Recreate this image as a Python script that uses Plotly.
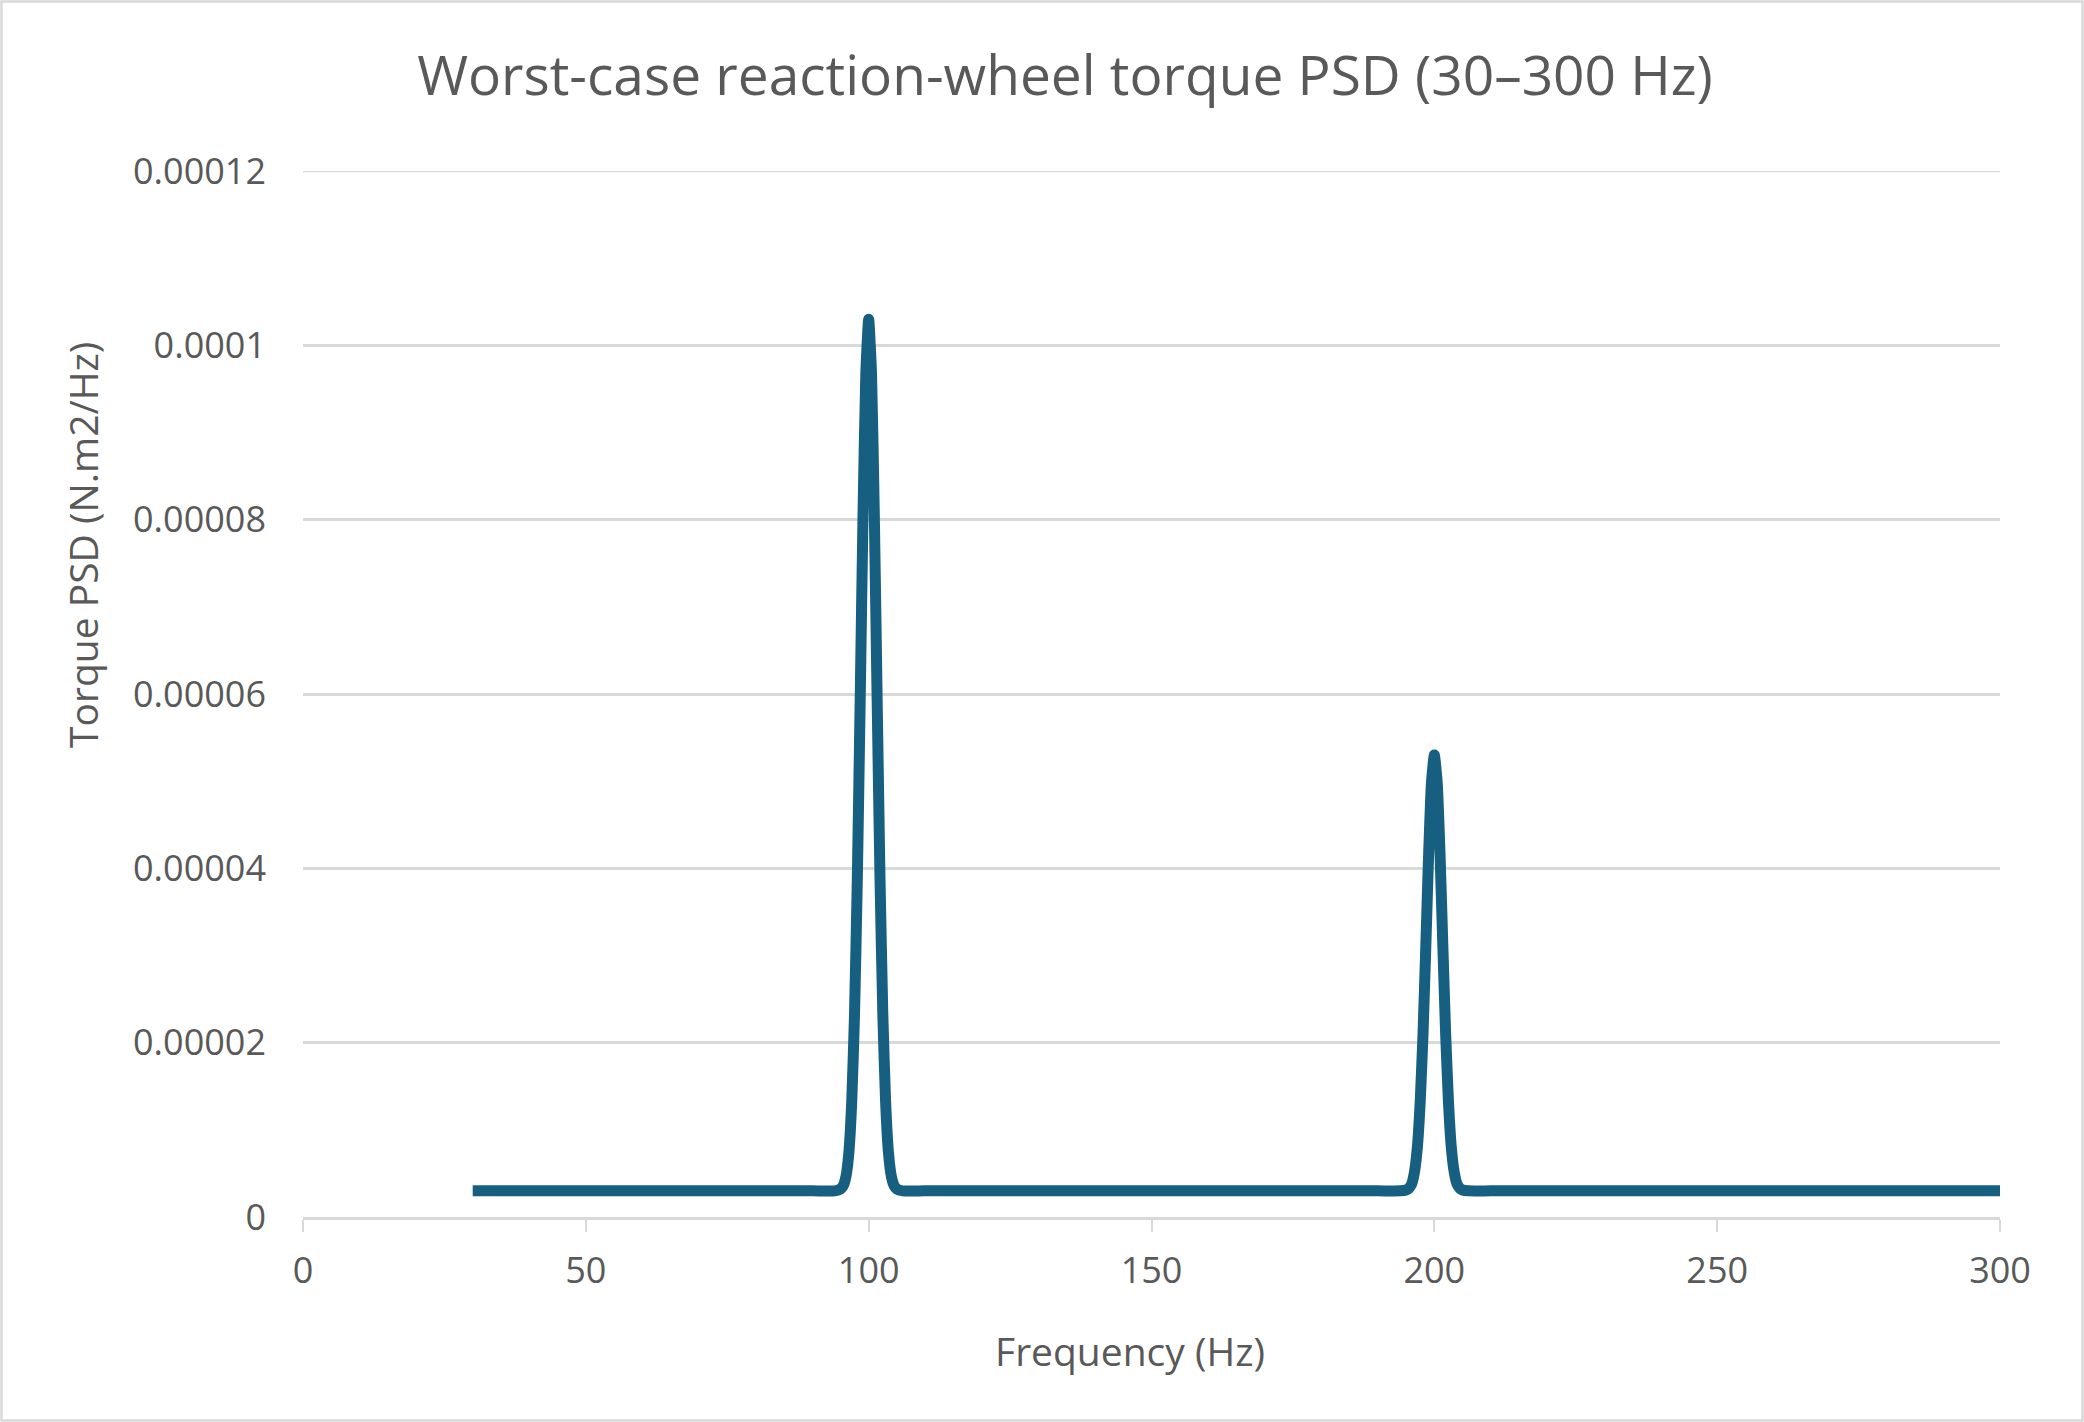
import plotly.graph_objects as go

# Frequencies (Hz) and torque PSD (N.m2/Hz)
freq_hz = [30, 60, 90, 94, 95, 95.5, 96, 96.5, 97, 97.5, 98, 98.5, 99, 99.5, 100,
           100.5, 101, 101.5, 102, 102.5, 103, 103.5, 104, 104.5, 105, 106, 110,
           150, 190, 194, 195, 195.5, 196, 196.5, 197, 197.5, 198, 198.5, 199, 199.5, 200,
           200.5, 201, 201.5, 202, 202.5, 203, 203.5, 204, 204.5, 205, 206, 210, 250, 300]
psd = [3.0e-6, 3.0e-6, 3.0e-6, 3.0e-6, 3.2e-6, 3.6e-6, 4.7e-6, 7.4e-6, 13.1e-6, 23.3e-6, 39.0e-6, 59.3e-6, 80.5e-6, 96.8e-6, 103.0e-6,
       96.8e-6, 80.5e-6, 59.3e-6, 39.0e-6, 23.3e-6, 13.1e-6, 7.4e-6, 4.7e-6, 3.6e-6, 3.2e-6, 3.0e-6, 3.0e-6,
       3.0e-6, 3.0e-6, 3.0e-6, 3.1e-6, 3.3e-6, 3.8e-6, 5.2e-6, 8.0e-6, 13.2e-6, 21.0e-6, 31.2e-6, 41.8e-6, 49.9e-6, 53.0e-6,
       49.9e-6, 41.8e-6, 31.2e-6, 21.0e-6, 13.2e-6, 8.0e-6, 5.2e-6, 3.8e-6, 3.3e-6, 3.1e-6, 3.0e-6, 3.0e-6, 3.0e-6, 3.0e-6]

x_ticks = [0, 50, 100, 150, 200, 250, 300]
y_ticks = [0, 0.00002, 0.00004, 0.00006, 0.00008, 0.0001, 0.00012]
y_tick_text = ["0", "0.00002", "0.00004", "0.00006", "0.00008", "0.0001", "0.00012"]

TEXT = "#595959"
GRID = "#D9D9D9"
LINE = "#175F81"
FONT = "Open Sans"

W, H = 2084, 1422
L, R, T, B = 303, 84, 171, 205
PW, PH = W - L - R, H - T - B

fig = go.Figure()
fig.add_trace(go.Scatter(
    x=freq_hz, y=psd, mode="lines",
    line=dict(color=LINE, width=11, shape="spline", smoothing=0.5),
    hoverinfo="x+y", showlegend=False,
))

fig.update_layout(
    width=W, height=H,
    margin=dict(l=L, r=R, t=T, b=B, autoexpand=False),
    paper_bgcolor="white", plot_bgcolor="white",
    font=dict(family=FONT, color=TEXT),
    title=dict(text="Worst-case reaction-wheel torque PSD (30–300 Hz)",
               x=(1065 - L) / PW, xref="paper", xanchor="center",
               y=1 - 76 / H, yref="container", yanchor="middle",
               font=dict(family=FONT, size=55, color=TEXT)),
    xaxis=dict(
        range=[0, 300], tickvals=x_ticks, ticktext=[str(v) for v in x_ticks],
        showgrid=False, zeroline=False,
        showline=True, linecolor=GRID, linewidth=2.5,
        ticks="outside", ticklen=12, tickcolor=GRID, tickwidth=2,
        tickfont=dict(family=FONT, size=36, color=TEXT),
        ticklabelstandoff=8,
        automargin=False, fixedrange=True,
    ),
    yaxis=dict(
        range=[0, 0.00012], tickvals=y_ticks, ticktext=y_tick_text,
        showgrid=True, gridcolor=GRID, gridwidth=2.5,
        zeroline=False, showline=False, ticks="",
        tickfont=dict(family=FONT, size=36, color=TEXT),
        ticklabelstandoff=36,
        automargin=False, fixedrange=True,
    ),
    annotations=[
        dict(text="Frequency (Hz)", xref="paper", yref="paper",
             x=(1130 - L) / PW, y=(T + PH - 1350) / PH,
             xanchor="center", yanchor="middle", showarrow=False,
             font=dict(family=FONT, size=39, color=TEXT)),
        dict(text="Torque PSD (N.m2/Hz)", xref="paper", yref="paper",
             x=(82 - L) / PW, y=(T + PH - 545) / PH, textangle=-90,
             xanchor="center", yanchor="middle", showarrow=False,
             font=dict(family=FONT, size=39, color=TEXT)),
    ],
    shapes=[
        dict(type="rect", xref="paper", yref="paper",
             x0=(1.5 - L) / PW, x1=(W - 1.5 - L) / PW,
             y0=(PH + T - (H - 1.5)) / PH, y1=(PH + T - 1.5) / PH,
             line=dict(color=GRID, width=2.5), layer="below"),
        dict(type="line", xref="paper", yref="y",
             x0=0, x1=1, y0=y_ticks[-1], y1=y_ticks[-1],
             line=dict(color=GRID, width=2.5), layer="below"),
    ],
)

fig.write_html("out.html")
